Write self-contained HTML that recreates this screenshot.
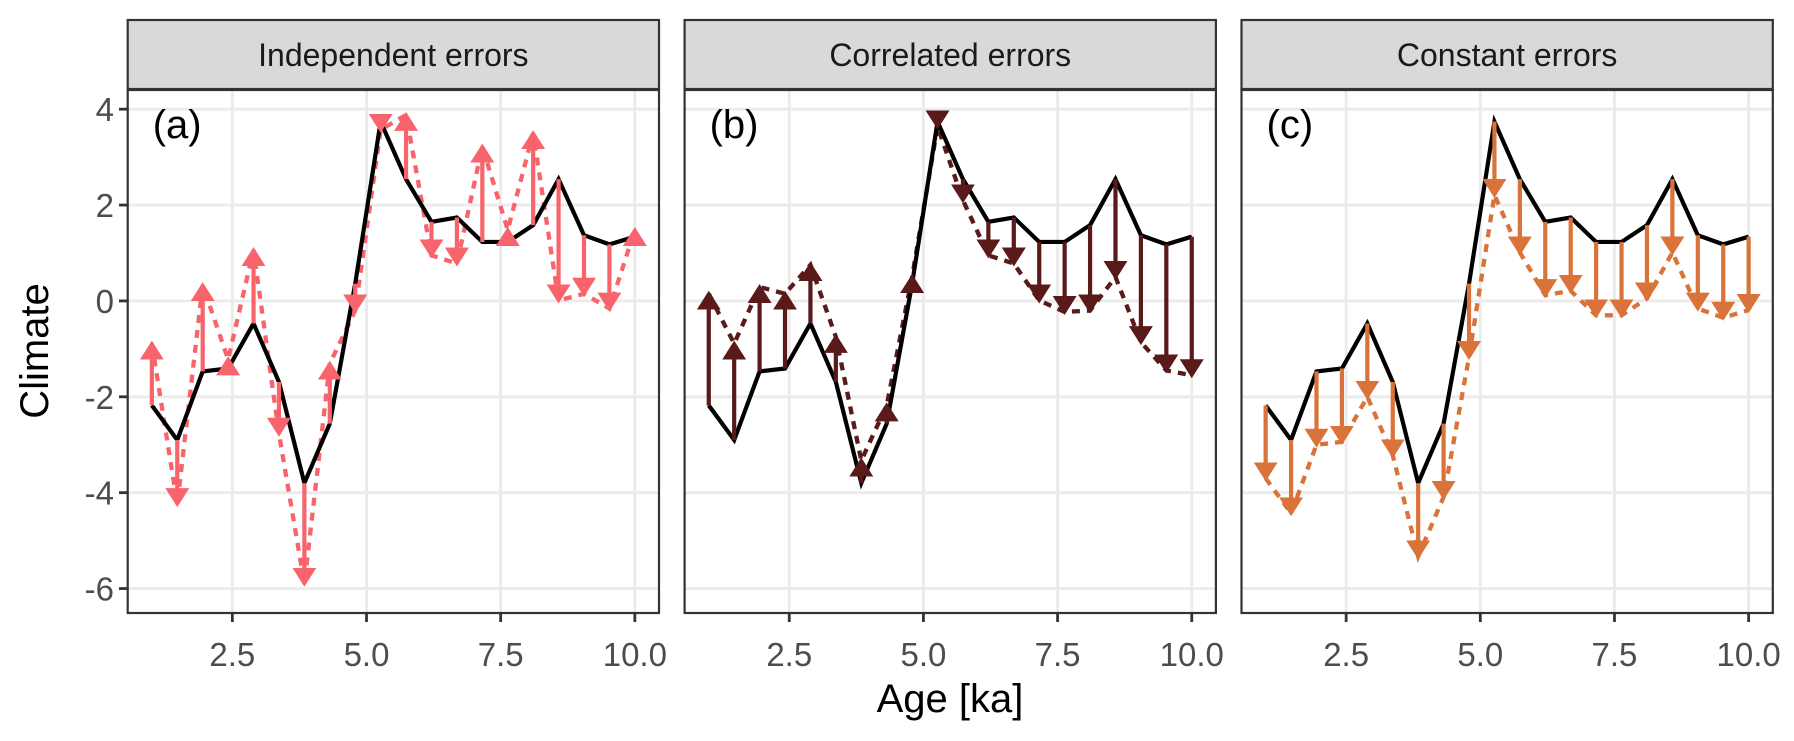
<!DOCTYPE html>
<html><head><meta charset="utf-8">
<style>
html,body{margin:0;padding:0;background:#fff;}
svg{display:block;font-family:"Liberation Sans",Arial,sans-serif;}
</style></head>
<body>
<svg id="chart" width="1794" height="741" viewBox="0 0 1794 741" xmlns="http://www.w3.org/2000/svg">
<defs>
<marker id="hA" markerUnits="userSpaceOnUse" markerWidth="26" markerHeight="26" refX="16" refY="12" orient="auto"><path d="M0,0 L19,12 L0,24 Z" fill="#f8646b"/></marker>
<marker id="hB" markerUnits="userSpaceOnUse" markerWidth="26" markerHeight="26" refX="16" refY="12" orient="auto"><path d="M0,0 L19,12 L0,24 Z" fill="#5a1a1a"/></marker>
<marker id="hC" markerUnits="userSpaceOnUse" markerWidth="26" markerHeight="26" refX="16" refY="12" orient="auto"><path d="M0,0 L19,12 L0,24 Z" fill="#d9733a"/></marker>
</defs>
<text x="0" y="0" transform="translate(48,351) rotate(-90)" text-anchor="middle" font-size="40" fill="#000">Climate</text>
<text x="950" y="712" text-anchor="middle" font-size="40" fill="#000">Age [ka]</text>
</svg>
<script>
const ages = [1.0,1.4737,1.9474,2.4211,2.8947,3.3684,3.8421,4.3158,4.7895,5.2632,5.7368,6.2105,6.6842,7.1579,7.6316,8.1053,8.5789,9.0526,9.5263,10.0];
const climate = [-2.18,-2.90,-1.47,-1.41,-0.47,-1.69,-3.80,-2.56,0.36,3.74,2.54,1.65,1.74,1.23,1.23,1.58,2.54,1.37,1.18,1.34];
const proxyIndependent = [-0.89,-4.24,0.33,-1.22,1.06,-2.77,-5.90,-1.31,-0.20,3.57,3.88,0.95,0.78,3.22,1.48,3.50,0.01,0.15,-0.16,1.48];
const proxyCorrelated = [0.15,-0.89,0.29,0.15,0.75,-0.75,-3.33,-2.18,0.50,3.64,2.10,0.95,0.78,0.01,-0.23,-0.20,0.50,-0.86,-1.45,-1.55];
const proxyConstant = [-3.70,-4.43,-3.00,-2.94,-2.00,-3.22,-5.33,-4.09,-1.17,2.21,1.01,0.12,0.21,-0.30,-0.30,0.05,1.01,-0.16,-0.35,-0.19];
const xTicks = [2.5,5.0,7.5,10.0];
const xTickLabels = ["2.5","5.0","7.5","10.0"];
const yTicks = [4,2,0,-2,-4,-6];
const yTickLabels = ["4","2","0","-2","-4","-6"];
const panelTitles = ["Independent errors","Correlated errors","Constant errors"];
const panelLetters = ["(a)","(b)","(c)"];

const NS="http://www.w3.org/2000/svg";
const svg=document.getElementById('chart');
const panelLefts=[127.7,684.6,1241.5], PW=531.3, PT=90, PB=613;
const xDom=[0.55,10.45], yDom=[-6.51,4.4];
function xs(i,v){return panelLefts[i]+(v-xDom[0])/(xDom[1]-xDom[0])*PW;}
function ys(v){return PB-(v-yDom[0])/(yDom[1]-yDom[0])*(PB-PT);}
function mk(tag,attrs,parent){const e=document.createElementNS(NS,tag);for(const k in attrs)e.setAttribute(k,attrs[k]);(parent||svg).appendChild(e);return e;}

const series=[proxyIndependent,proxyCorrelated,proxyConstant];
const colors=["#f8646b","#5a1a1a","#d9733a"];
const markers=["hA","hB","hC"];

for(let p=0;p<3;p++){
  const g=mk('g',{});
  
  
  const L=panelLefts[p];
  const bg=mk('rect',{x:L,y:PT,width:PW,height:PB-PT,fill:'#fff'},g);
  
  
  for(let k=0;k<yTicks.length;k++){
    const gl=mk('line',{x1:L,x2:L+PW,y1:ys(yTicks[k]),y2:ys(yTicks[k]),stroke:'#ebebeb','stroke-width':2.8},g);
    
    
  }
  for(let k=0;k<xTicks.length;k++){
    const gl=mk('line',{x1:xs(p,xTicks[k]),x2:xs(p,xTicks[k]),y1:PT,y2:PB,stroke:'#ebebeb','stroke-width':2.8},g);
    
    
  }
  const prox=series[p];
  const dl=mk('polyline',{points:ages.map((a,i)=>xs(p,a)+','+ys(prox[i])).join(' '),fill:'none',stroke:colors[p],'stroke-width':4.3,'stroke-dasharray':'8,7'},g);
  
  
  const cl=mk('polyline',{points:ages.map((a,i)=>xs(p,a)+','+ys(climate[i])).join(' '),fill:'none',stroke:'#000','stroke-width':4.2,'stroke-linejoin':'miter'},g);
  
  
  for(let i=0;i<ages.length;i++){
    const a=mk('line',{x1:xs(p,ages[i]),x2:xs(p,ages[i]),y1:ys(climate[i]),y2:ys(prox[i]),stroke:colors[p],'stroke-width':4.2,'marker-end':'url(#'+markers[p]+')'},g);
    
    
  }
  const br=mk('rect',{x:L,y:PT,width:PW,height:PB-PT,fill:'none',stroke:'#333','stroke-width':2.2},g);
  
  
  const st=mk('rect',{x:L,y:20,width:PW,height:69,fill:'#d9d9d9',stroke:'#333','stroke-width':2.2},g);
  
  
  const stt=mk('text',{x:L+PW/2,y:66,'text-anchor':'middle','font-size':32,fill:'#1a1a1a'},g);
  stt.textContent=panelTitles[p];
  
  
  const lt=mk('text',{x:L+25,y:138,'font-size':40,fill:'#000'},g);
  lt.textContent=panelLetters[p];
  
  
  for(let k=0;k<xTicks.length;k++){
    const x=xs(p,xTicks[k]);
    const tk=mk('line',{x1:x,x2:x,y1:PB,y2:PB+9,stroke:'#333','stroke-width':2.8},g);
    
    
    const tl=mk('text',{x:x,y:666,'text-anchor':'middle','font-size':33,fill:'#4d4d4d'},g);
    tl.textContent=xTickLabels[k];
    
    
  }
}
for(let k=0;k<yTicks.length;k++){
  const y=ys(yTicks[k]);
  const tk=mk('line',{x1:119,x2:127.7,y1:y,y2:y,stroke:'#333','stroke-width':2.8});
  
  
  const tl=mk('text',{x:114,y:y+12,'text-anchor':'end','font-size':33,fill:'#4d4d4d'});
  tl.textContent=yTickLabels[k];
  
  
}
</script>
</body></html>
